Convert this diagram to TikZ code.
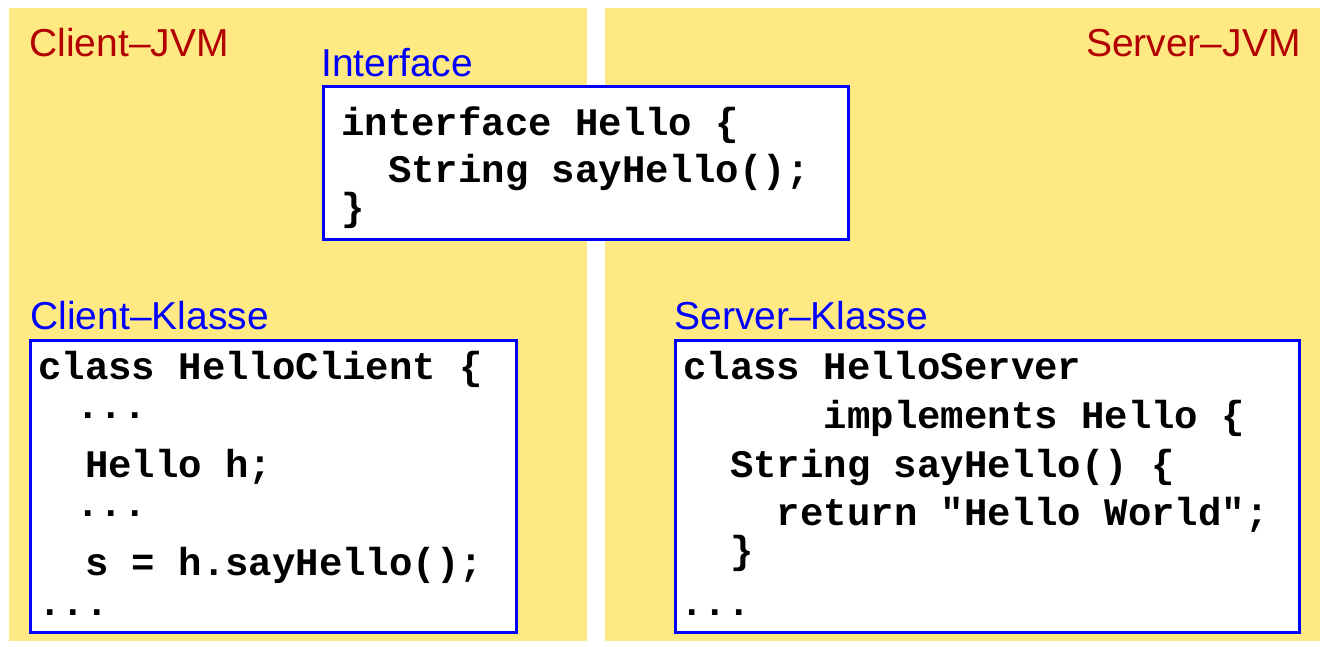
\documentclass[tikz,border=0pt]{standalone}
\usepackage{fontspec}
\setmainfont{Liberation Sans}
\newfontfamily\codefont{Liberation Mono}
\definecolor{panelyellow}{RGB}{255,233,130}
\definecolor{jvmred}{RGB}{178,0,0}
\definecolor{boxblue}{RGB}{0,0,255}

\begin{document}
\begin{tikzpicture}[x=0.02cm, y=-0.02cm,
    lbl/.style={anchor=base west, inner sep=0pt, font=\fontsize{22.2}{26}\selectfont},
    jvm/.style={lbl, text=jvmred},
    klasse/.style={lbl, text=boxblue},
    codebox/.style={draw=boxblue, line width=0.065cm, fill=white, rectangle, anchor=north west, inner sep=0pt, outer sep=0pt},
    code/.style={anchor=base west, inner sep=0pt, font=\fontsize{22.2}{26}\selectfont\codefont\bfseries}]
    \useasboundingbox (0,0) rectangle (1324,646);

    % JVMs
    \fill[panelyellow] (9,8) rectangle (587,641);
    \fill[panelyellow] (605,8) rectangle (1320,641);
    \node[jvm] (clientjvm) at (29,56) {Client--JVM};
    \node[jvm, anchor=base east] (serverjvm) at (1301,56) {Server--JVM};

    % Interface
    \node[codebox, minimum width=10.5cm, minimum height=3.06cm] (ifbox) at (323.5,86.5) {};
    \node[klasse] (iflabel) at (321,76) {Interface};
    \node[code] (if1) at (341,135) {interface Hello \{};
    \node[code] (if2) at (341,182) {~~String sayHello();};
    \node[code] (if3) at (341,220) {\}};

    % Client-Klasse
    \node[codebox, minimum width=9.72cm, minimum height=5.84cm] (clbox) at (30.5,340.5) {};
    \node[klasse] (cllabel) at (30,329) {Client--Klasse};
    \node[code] (cl1) at (38,379) {class HelloClient \{};
    \node[code] (cl2) at (76,418) {...};
    \node[code] (cl3) at (38,477) {~~Hello h;};
    \node[code] (cl4) at (76,516) {...};
    \node[code] (cl5) at (38,575) {~~s = h.sayHello();};
    \node[code] (cl6) at (38,615) {...};

    % Server-Klasse
    \node[codebox, minimum width=12.48cm, minimum height=5.84cm] (svbox) at (675.5,340.5) {};
    \node[klasse] (svlabel) at (674,329) {Server--Klasse};
    \node[code] (sv1) at (683,379) {class HelloServer};
    \node[code] (sv2) at (683,428) {~~~~~~implements Hello \{};
    \node[code] (sv3) at (683,477) {~~String sayHello() \{};
    \node[code] (sv4) at (683,525) {~~~~return "Hello World";};
    \node[code] (sv5) at (683,563) {~~\}};
    \node[code] (sv6) at (680,615) {...};
\end{tikzpicture}
\end{document}
